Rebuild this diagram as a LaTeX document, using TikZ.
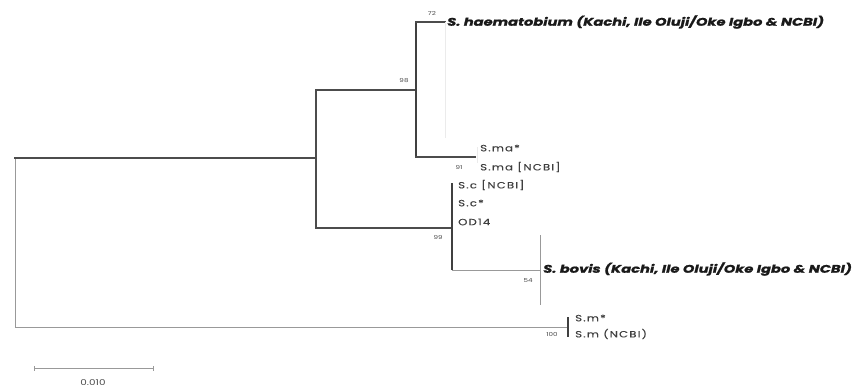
\documentclass[tikz,border=0pt]{standalone}
\usepackage{fontspec}
\setmainfont{Poppins}
\newcommand{\wideleaf}[1]{\scalebox{1.3}[1]{\addfontfeatures{LetterSpace=10,FakeBold=0.4}#1}}
\newcommand{\wideclade}[1]{\scalebox{1.33}[1]{\addfontfeatures{FakeBold=1.2}#1}}
\newcommand{\wideboot}[1]{\scalebox{1.3}[1]{#1}}
\begin{document}
\begin{tikzpicture}[x=1pt,y=-1pt,
  dark/.style={draw=black!70,line width=1.3pt,line cap=rect},
  darkthick/.style={draw=black!75,line width=1.8pt},
  light/.style={draw=black!40,line width=0.9pt},
  faint/.style={draw=black!8,line width=0.6pt},
  leaf/.style={anchor=west,inner sep=0pt,font=\fontsize{9}{10}\selectfont,text=black!75},
  clade/.style={anchor=west,inner sep=0pt,font=\fontsize{11}{12}\selectfont\bfseries\itshape,text=black!90},
  boot/.style={inner sep=0pt,font=\fontsize{5.5}{6}\selectfont,text=black!70}]
\useasboundingbox (0,0) rectangle (856,389);
% junction coordinates
\coordinate (r) at (15,158);
\coordinate (rb) at (15,327);
\coordinate (a) at (316,158);
\coordinate (at) at (316,90);
\coordinate (ab) at (316,228);
\coordinate (b) at (416,90);
\coordinate (bt) at (416,22);
\coordinate (bb) at (416,157);
\coordinate (ht) at (445,22);
\coordinate (mat) at (475,157);
\coordinate (c) at (452,228);
\coordinate (ct) at (452,183);
\coordinate (cb) at (452,270);
\coordinate (bov) at (540,270);
\coordinate (bovt) at (540,235);
\coordinate (bovb) at (540,305);
\coordinate (d) at (568,327);
\coordinate (dt) at (568,317);
\coordinate (db) at (568,337);
\coordinate (hf1) at (445,22);
\coordinate (hf2) at (445,138);
\coordinate (mf1) at (477,147);
\coordinate (mf2) at (477,163);
\coordinate (s1) at (34,368);
\coordinate (s2) at (153,368);
% branches
\draw[light] (r) -- (rb);
\draw[light] (rb) -- (d);
\draw[dark] (r) -- (a);
\draw[dark] (at) -- (ab);
\draw[dark] (at) -- (b);
\draw[darkthick] (bt) -- (bb);
\draw[dark] (bt) -- (ht);
\draw[dark] (bb) -- (mat);
\draw[dark] (ab) -- (c);
\draw[darkthick] (ct) -- (cb);
\draw[light] (cb) -- (bov);
\draw[light] (bovt) -- (bovb);
\draw[darkthick] (dt) -- (db);
\draw[faint] (hf1) -- (hf2);
\draw[faint] (mf1) -- (mf2);
% scale bar
\draw[light,line width=1pt] (s1) -- (s2);
\draw[light,line width=1pt] ([yshift=-2.5]s1) -- ([yshift=2.5]s1);
\draw[light,line width=1pt] ([yshift=-2.5]s2) -- ([yshift=2.5]s2);
\node[boot,font=\fontsize{8}{9}\selectfont] (sl) at (93,383) {\wideboot{0.010}};
% labels
\node[clade] (haem) at (447,22) {\wideclade{S. haematobium (Kachi, Ile Oluji/Oke Igbo \& NCBI)}};
\node[clade] (bovis) at (543,269) {\wideclade{S. bovis (Kachi, Ile Oluji/Oke Igbo \& NCBI)}};
\node[leaf] (ma1) at (480,148) {\wideleaf{S.ma*}};
\node[leaf] (ma2) at (480,167) {\wideleaf{S.ma [NCBI]}};
\node[leaf] (c1) at (458,185) {\wideleaf{S.c [NCBI]}};
\node[leaf] (c2) at (458,203) {\wideleaf{S.c*}};
\node[leaf] (c3) at (458,222) {\wideleaf{OD14}};
\node[leaf] (m1) at (575,318) {\wideleaf{S.m*}};
\node[leaf] (m2) at (575,334) {\wideleaf{S.m (NCBI)}};
% bootstrap values
\node[boot] (b72) at (432,13) {\wideboot{72}};
\node[boot] (b98) at (404,81) {\wideboot{98}};
\node[boot] (b91) at (459,167) {\wideboot{91}};
\node[boot] (b99) at (438,237) {\wideboot{99}};
\node[boot] (b54) at (528,281) {\wideboot{54}};
\node[boot] (b100) at (552,334) {\wideboot{100}};
\end{tikzpicture}
\end{document}
